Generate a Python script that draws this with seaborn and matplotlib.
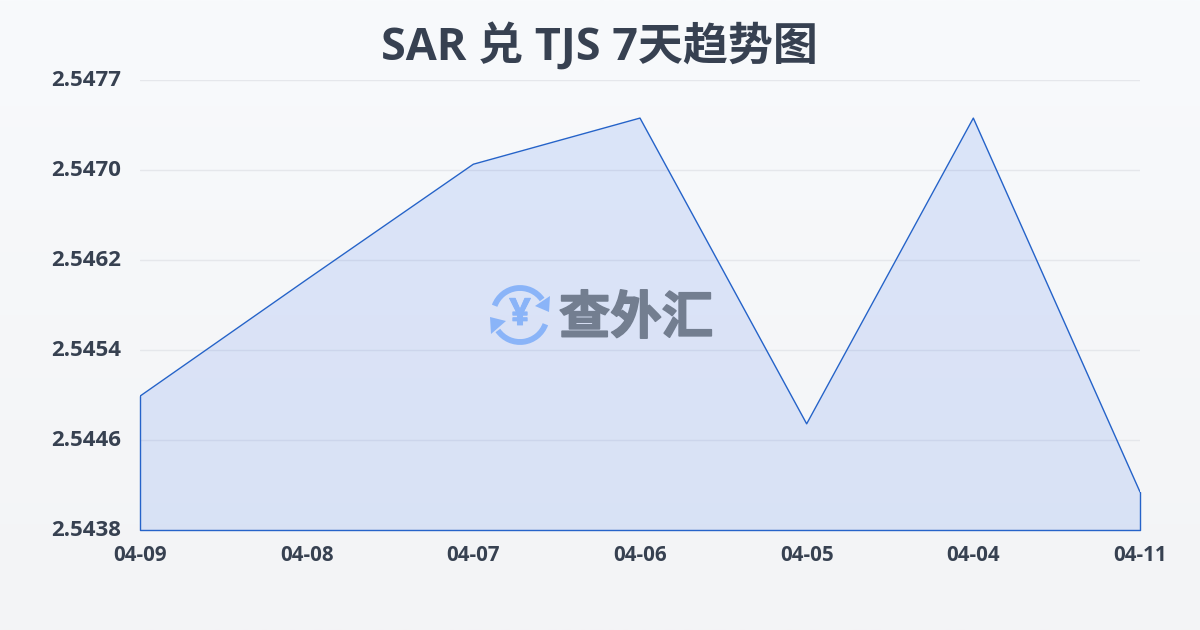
import numpy as np
import pandas as pd
import seaborn as sns
import matplotlib
matplotlib.use("Agg")
import matplotlib.pyplot as plt
import matplotlib.patheffects as pe
from matplotlib.patches import Arc, Polygon
from matplotlib.colors import LinearSegmentedColormap

dates = ["04-09", "04-08", "04-07", "04-06", "04-05", "04-04", "04-11"]
rates = [2.54496, 2.54597, 2.54697, 2.54737, 2.54472, 2.54737, 2.54413]
y_ticks = [2.5438, 2.5446, 2.5454, 2.5462, 2.5470, 2.5477]
title = "SAR 兑 TJS 7天趋势图"
watermark = "查外汇"

sns.set_theme(style="white")
fam = ["Open Sans", "Noto Sans CJK SC", "DejaVu Sans"]
plt.rcParams["font.family"] = fam

W, H = 1200, 630
fig = plt.figure(figsize=(W / 100, H / 100), dpi=100)

bg = fig.add_axes([0, 0, 1, 1], zorder=0)
bg.axis("off")
cmap = LinearSegmentedColormap.from_list("bg", ["#f8fafc", "#f3f4f6"])
bg.imshow(np.linspace(0, 1, 256).reshape(-1, 1), cmap=cmap, aspect="auto", extent=[0, W, H, 0])

ax = fig.add_axes([140 / W, 1 - 530 / H, 1000 / W, 450 / H], zorder=1)
ax.patch.set_alpha(0)
df = pd.DataFrame({"date": dates, "rate": rates})
x = np.arange(len(dates))
y0 = 2.5438
y1 = 2.5477

sns.lineplot(data=df, x="date", y="rate", ax=ax, color="#2563c9", linewidth=1, sort=False, zorder=3)
ax.fill_between(x, rates, y0, color="#2563eb", alpha=0.13, linewidth=0, zorder=2)
ax.plot([x[0], x[0], x[-1], x[-1]], [rates[0], y0, y0, rates[-1]], color="#2563c9", lw=1, zorder=3, clip_on=False)

ax.set_xlim(0, len(dates) - 1)
ax.set_ylim(y0, y1)
grid_pos = np.linspace(y0, y1, 6)
ax.set_yticks(grid_pos)
ax.set_yticklabels([f"{v:.4f}" for v in y_ticks])
ax.set_xticks(x)
ax.set_xticklabels(dates)
ax.set_xlabel("")
ax.set_ylabel("")
ax.grid(axis="y", color="#e5e7eb", lw=1)
ax.set_axisbelow(True)
for s in ax.spines.values():
    s.set_visible(False)
ax.tick_params(axis="y", length=0, pad=13.5, labelsize=16, labelcolor="#374151")
ax.tick_params(axis="x", length=7, width=0.7, color="#e5e7eb", pad=4, labelsize=14.8, labelcolor="#374151")
for t in ax.get_xticklabels() + ax.get_yticklabels():
    t.set_fontweight("bold")
for t in ax.get_yticklabels():
    t.set_transform(t.get_transform() + matplotlib.transforms.ScaledTranslation(0, 2 / 100, fig.dpi_scale_trans))

fig.text(599.5 / W, 1 - 46.5 / H, title, ha="center", va="center", fontsize=32.4, fontweight="bold",
         color="#374151", family=fam, zorder=5)

ov = fig.add_axes([0, 0, 1, 1], zorder=4)
ov.axis("off")
ov.patch.set_alpha(0)
ov.set_xlim(0, W)
ov.set_ylim(H, 0)
blue = "#8ab4f8"
cx, cy = 520, 315
ov.add_patch(Arc((cx, cy), 54, 54, theta1=200, theta2=325, color=blue, lw=4.2))
ov.add_patch(Arc((cx, cy), 54, 54, theta1=20, theta2=145, color=blue, lw=4.2))
ov.add_patch(Polygon([(535, 306), (550, 296), (549, 312)], color=blue, lw=0))
ov.add_patch(Polygon([(490, 317), (506, 321), (491, 334)], color=blue, lw=0))
ov.text(cx, cy, "¥", ha="center", va="center", fontsize=27, fontweight="bold", color=blue, family=fam,
        path_effects=[pe.withStroke(linewidth=0.6, foreground=blue)])
ov.text(636, 318, watermark, ha="center", va="center", fontsize=37, fontweight="bold",
        color="#737e90", family=["Noto Sans CJK SC"],
        path_effects=[pe.withStroke(linewidth=1.2, foreground="#737e90")])

fig.savefig("out.png", dpi=100)
